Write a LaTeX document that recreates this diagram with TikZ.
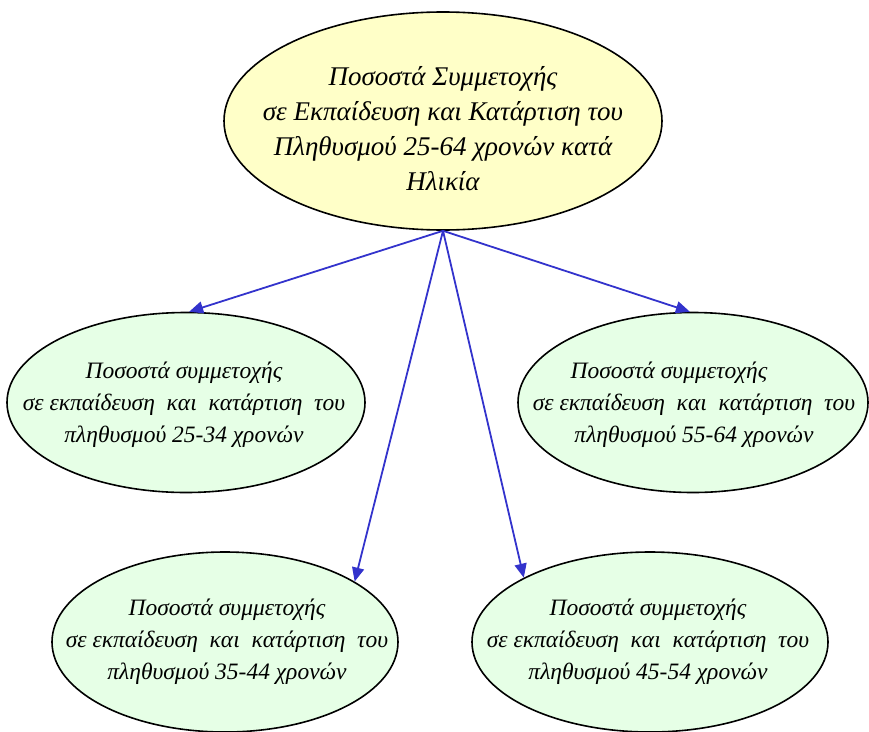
\documentclass[tikz,border=0pt]{standalone}
\usepackage{fontspec}
\setmainfont{Liberation Serif}
\usetikzlibrary{shapes.geometric,arrows.meta}
\definecolor{topfill}{HTML}{FFFFC8}
\definecolor{subfill}{HTML}{E6FFE6}
\definecolor{arrowblue}{HTML}{3333CC}
\begin{document}
\begin{tikzpicture}[x=1pt,y=-1pt,
  oval/.style={ellipse, draw=black, line width=1.6pt, inner sep=0pt},
  topoval/.style={oval, fill=topfill, minimum width=438pt, minimum height=218pt},
  suboval/.style={oval, fill=subfill, minimum height=180pt},
  sublabel/.style={align=center, font=\itshape\fontsize{23.5}{32}\selectfont},
  toplabel/.style={align=center, font=\itshape\fontsize{27}{35}\selectfont},
  link/.style={draw=arrowblue, line width=1.8pt, -{Triangle[length=14pt,width=12pt]}}]
\useasboundingbox (0,0) rectangle (869,731);
\node[topoval] (top) at (443,121) {};
\node[toplabel] (toptext) at (443,129) {Ποσοστά Συμμετοχής\\σε Εκπαίδευση και Κατάρτιση του\\Πληθυσμού 25-64 χρονών κατά\\Ηλικία};
\node[suboval, minimum width=358pt] (L) at (186,402.5) {};
\node[sublabel] (Ltext) at (184,405) {Ποσοστά συμμετοχής\\σε εκπαίδευση~ και~ κατάρτιση~ του\\πληθυσμού 25-34 χρονών};
\node[suboval, minimum width=350pt] (R) at (693,402.5) {};
\node[sublabel] (Rtext) at (694,405) {Ποσοστά συμμετοχής\hspace*{50pt}\\σε εκπαίδευση~ και~ κατάρτιση~ του\\πληθυσμού 55-64 χρονών};
\node[suboval, minimum width=346pt] (BL) at (225,642) {};
\node[sublabel] (BLtext) at (227,642) {Ποσοστά συμμετοχής\\σε εκπαίδευση~ και~ κατάρτιση~ του\\πληθυσμού 35-44 χρονών};
\node[suboval, minimum width=356pt] (BR) at (650,642) {};
\node[sublabel] (BRtext) at (648,642) {Ποσοστά συμμετοχής\\σε εκπαίδευση~ και~ κατάρτιση~ του\\πληθυσμού 45-54 χρονών};
\draw[link] (top.south) -- (L.88);
\draw[link] (top.south) -- (R.92);
\draw[link] (top.south) -- (BL.25);
\draw[link] (top.south) -- (BR.153);
\end{tikzpicture}
\end{document}
